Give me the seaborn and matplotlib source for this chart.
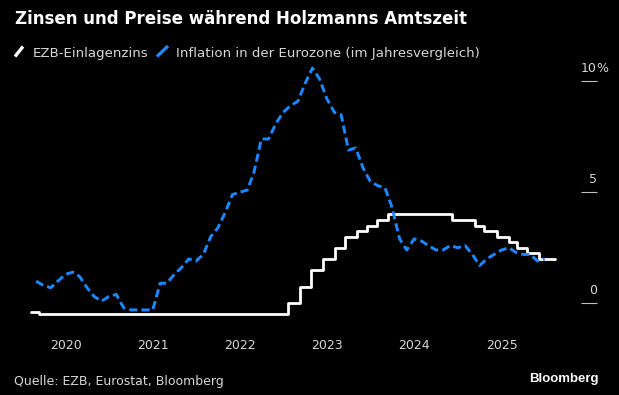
import pandas as pd
import matplotlib.pyplot as plt
import matplotlib.dates as mdates
from matplotlib.lines import Line2D
import seaborn as sns

# ECB deposit rate: date of each change and the new level (last row = end of series)
rate_dates = ['2019-08-08', '2019-09-12', '2022-07-21', '2022-09-08', '2022-10-27',
              '2022-12-15', '2023-02-02', '2023-03-16', '2023-05-04', '2023-06-15',
              '2023-07-27', '2023-09-14', '2024-06-06', '2024-09-12', '2024-10-17',
              '2024-12-12', '2025-01-30', '2025-03-06', '2025-04-17', '2025-06-05',
              '2025-08-14']
rate_values = [-0.4, -0.5, 0.0, 0.75, 1.5,
               2.0, 2.5, 3.0, 3.25, 3.5,
               3.75, 4.0, 3.75, 3.5, 3.25,
               3.0, 2.75, 2.5, 2.25, 2.0,
               2.0]

# Euro area inflation (HICP, % y/y), monthly Aug 2019 - Jun 2025
infl_start = '2019-08-31'
infl_values = [1.0, 0.8, 0.7, 1.0, 1.3,
               1.4, 1.2, 0.7, 0.3, 0.1, 0.3, 0.4, -0.2, -0.3, -0.3, -0.3, -0.3,
               0.9, 0.9, 1.3, 1.6, 2.0, 1.9, 2.2, 3.0, 3.4, 4.1, 4.9, 5.0,
               5.1, 5.9, 7.4, 7.4, 8.1, 8.6, 8.9, 9.1, 9.9, 10.6, 10.1, 9.2,
               8.6, 8.5, 6.9, 7.0, 6.1, 5.5, 5.3, 5.2, 4.3, 2.9, 2.4, 2.9,
               2.8, 2.6, 2.4, 2.4, 2.6, 2.5, 2.6, 2.2, 1.7, 2.0, 2.2, 2.4,
               2.5, 2.3, 2.2, 2.2, 1.9, 2.0]

year_ticks = [2020, 2021, 2022, 2023, 2024, 2025]
y_ticks = [0, 5, 10]
y_labels = ['0', '5', '10']

rate = pd.DataFrame({'date': pd.to_datetime(rate_dates), 'value': rate_values})
infl = pd.DataFrame({'date': pd.date_range(infl_start, periods=len(infl_values), freq='ME'),
                     'value': infl_values})

BG = '#000000'
BLUE = '#1a88ff'
LIGHT = '#d6d6d6'

sns.set_style('dark')
plt.rcParams['font.family'] = ['DejaVu Sans']

fig = plt.figure(figsize=(6.19, 3.95), dpi=100, facecolor=BG)
ax = fig.add_axes([20 / 619, 70 / 395, 577 / 619, 265 / 395])
ax.set_facecolor(BG)

sns.lineplot(data=rate, x='date', y='value', ax=ax, color='white', lw=2.0,
             drawstyle='steps-post', zorder=2)
sns.lineplot(data=infl, x='date', y='value', ax=ax, color=BLUE, lw=2.1,
             linestyle=(0, (2.8, 1.4)), zorder=3)

ax.set_xlim(pd.Timestamp('2019-06-24'), pd.Timestamp('2026-02-04'))
ax.set_ylim(-0.98, 10.96)
ax.set_xlabel('')
ax.set_ylabel('')
ax.grid(False)
for s in ax.spines.values():
    s.set_visible(False)

ax.set_xticks([pd.Timestamp(f'{y}-01-01') for y in year_ticks])
ax.xaxis.set_major_formatter(mdates.DateFormatter('%Y'))
ax.tick_params(axis='x', direction='out', length=4, width=0.8, color='#9a9a9a',
               labelcolor=LIGHT, labelsize=9, pad=6)

ax.yaxis.tick_right()
ax.set_yticks(y_ticks)
ax.set_yticklabels([])
ax.tick_params(axis='y', direction='in', length=11.5, width=0.8, color='#bdbdbd')
for v, lab in zip(y_ticks, y_labels):
    ax.annotate(lab, xy=(1.0, v), xycoords=('axes fraction', 'data'),
                xytext=(0, 6.5), textcoords='offset points',
                ha='right', va='baseline', color=LIGHT, fontsize=9)
ax.annotate('%', xy=(1.0, y_ticks[-1]), xycoords=('axes fraction', 'data'),
            xytext=(-0.3, 6.5), textcoords='offset points',
            ha='left', va='baseline', color=LIGHT, fontsize=9)

# title, legend, footer
fig.text(15 / 619, 1 - 23.5 / 395, 'Zinsen und Preise während Holzmanns Amtszeit',
         color='white', fontsize=12, fontweight='bold', va='baseline')

fig.add_artist(Line2D([15 / 619, 23 / 619], [1 - 56.5 / 395, 1 - 46.5 / 395],
                      color='white', lw=2.4, solid_capstyle='butt'))
fig.text(33 / 619, 1 - 56.5 / 395, 'EZB-Einlagenzins', color=LIGHT,
         fontsize=9.6, va='baseline')
fig.add_artist(Line2D([157 / 619, 168 / 619], [1 - 56.5 / 395, 1 - 46 / 395],
                      color=BLUE, lw=2.4, solid_capstyle='butt'))
fig.text(175.5 / 619, 1 - 56.5 / 395, 'Inflation in der Eurozone (im Jahresvergleich)',
         color=LIGHT, fontsize=9.6, va='baseline')

fig.text(14 / 619, 1 - 385 / 395, 'Quelle: EZB, Eurostat, Bloomberg', color=LIGHT,
         fontsize=9, va='baseline')
fig.text(599 / 619, 1 - 382 / 395, 'Bloomberg', color='white', fontsize=9.5,
         fontweight='bold', family=['Liberation Sans'], ha='right', va='baseline')

fig.savefig('out.png', dpi=100, facecolor=BG)
